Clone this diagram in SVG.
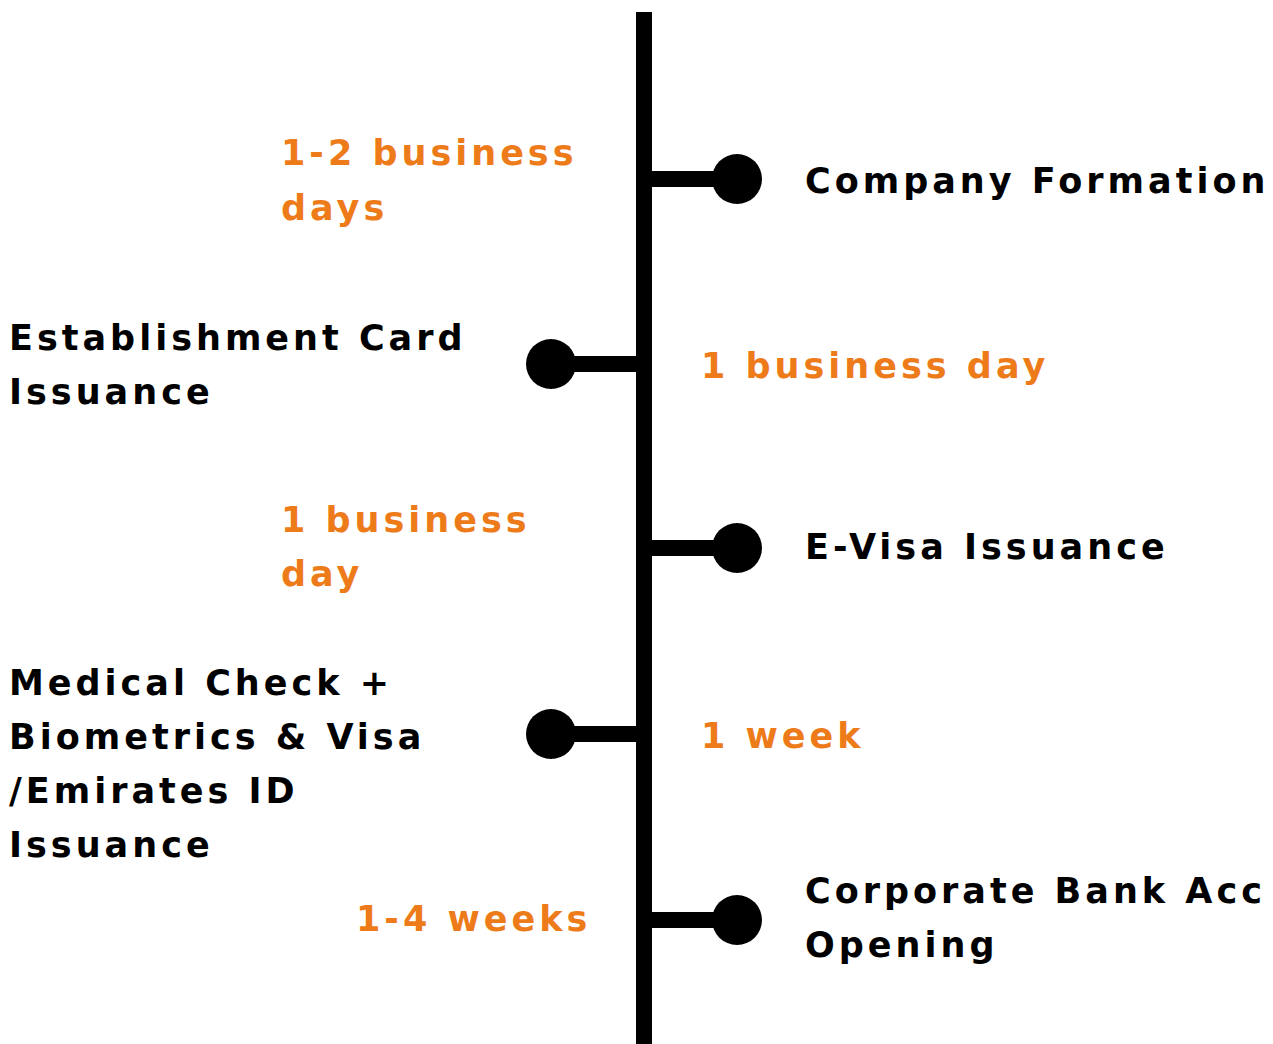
<svg xmlns="http://www.w3.org/2000/svg" width="1273" height="1044" viewBox="0 0 1273 1044">
  <style>
    .t { font-family: "DejaVu Sans", "Liberation Sans", sans-serif; font-weight: bold; font-size: 35px; letter-spacing: 4px; }
    .k { fill: #000000; }
    .o { fill: #EE7B1A; }
    .ln { stroke: #000000; fill: none; }
    .dot { fill: #000000; }
  </style>
  <rect width="1273" height="1044" fill="#ffffff"/>
  <g id="connectors">
    <line class="ln" x1="644" y1="12" x2="644" y2="1044" stroke-width="16"/>
    <line class="ln" x1="636" y1="179" x2="737" y2="179" stroke-width="16"/>
    <line class="ln" x1="652" y1="364" x2="551" y2="364" stroke-width="16"/>
    <line class="ln" x1="636" y1="548" x2="737" y2="548" stroke-width="16"/>
    <line class="ln" x1="652" y1="734" x2="551" y2="734" stroke-width="16"/>
    <line class="ln" x1="636" y1="920" x2="737" y2="920" stroke-width="16"/>
  </g>
  <g id="node-company-formation">
    <circle class="dot" cx="737" cy="179" r="25"/>
    <text class="t k" x="805" y="193">Company Formation</text>
    <text class="t o" x="281" y="165">1-2 business</text>
    <text class="t o" x="281" y="220">days</text>
  </g>
  <g id="node-establishment-card">
    <circle class="dot" cx="551" cy="364" r="25"/>
    <text class="t k" x="9" y="350">Establishment Card</text>
    <text class="t k" x="9" y="404">Issuance</text>
    <text class="t o" x="701" y="378">1 business day</text>
  </g>
  <g id="node-evisa">
    <circle class="dot" cx="737" cy="548" r="25"/>
    <text class="t k" x="805" y="559">E-Visa Issuance</text>
    <text class="t o" x="281" y="532">1 business</text>
    <text class="t o" x="281" y="586">day</text>
  </g>
  <g id="node-medical">
    <circle class="dot" cx="551" cy="734" r="25"/>
    <text class="t k" x="9" y="695">Medical Check +</text>
    <text class="t k" x="9" y="749">Biometrics &amp; Visa</text>
    <text class="t k" x="9" y="803">/Emirates ID</text>
    <text class="t k" x="9" y="857">Issuance</text>
    <text class="t o" x="701" y="748">1 week</text>
  </g>
  <g id="node-bank">
    <circle class="dot" cx="737" cy="920" r="25"/>
    <text class="t k" x="805" y="903">Corporate Bank Acc</text>
    <text class="t k" x="805" y="957">Opening</text>
    <text class="t o" x="356" y="931">1-4 weeks</text>
  </g>
</svg>
